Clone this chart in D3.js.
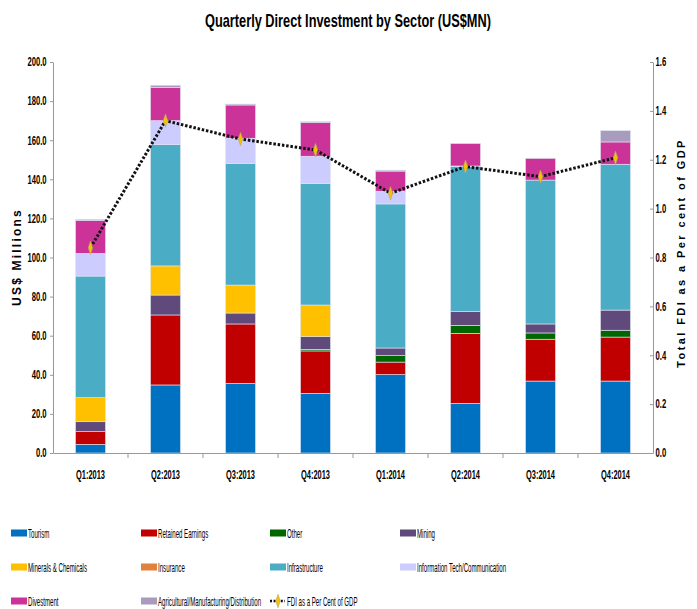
<!DOCTYPE html>
<html>
<head>
<meta charset="utf-8">
<script src="https://cdn.jsdelivr.net/npm/d3@7"></script>
<style>
  body { margin: 0; background: #fff; }
  text { fill: #000; }
</style>
</head>
<body>
<script>
  var quarters = ["Q1:2013", "Q2:2013", "Q3:2013", "Q4:2013", "Q1:2014", "Q2:2014", "Q3:2014", "Q4:2014"];
  var sectors = ["Tourism", "Retained Earnings", "Other", "Mining", "Minerals & Chemicals", "Insurance",
    "Infrastructure", "Information Tech/Communication", "Divestment", "Agricultural/Manufacturing/Distribution"];
  var colors = ["#0070C0", "#C00000", "#006600", "#604A7B", "#FFC000", "#E0823D",
    "#4BACC6", "#CCCCFF", "#CC3399", "#A99BBD"];

  var tourism = [4.4, 34.8, 35.6, 30.5, 40.1, 25.4, 36.8, 36.8];
  var retained = [6.5, 35.8, 30.4, 21.7, 6.4, 35.8, 21.4, 22.5];
  var other = [0, 0, 0, 0.8, 3.3, 4.1, 3.2, 3.5];
  var mining = [5.1, 10.2, 5.6, 6.5, 3.9, 7.2, 4.6, 10.3];
  var minerals = [12.3, 14.9, 14.3, 16.2, 0, 0, 0, 0];
  var insurance = [0, 0, 0, 0, 0, 0, 0, 0];
  var infrastructure = [62.2, 62.0, 62.1, 62.1, 73.7, 74.0, 73.6, 74.6];
  var infoTech = [11.6, 12.3, 13.0, 14.0, 6.5, 0.3, 0, 0];
  var divestment = [16.9, 16.9, 17.0, 17.2, 10.3, 11.5, 11.1, 11.4];
  var agricultural = [0.5, 1.2, 0.5, 0.5, 0.5, 0, 0, 5.8];
  var fdiPctGdp = [0.84, 1.36, 1.285, 1.24, 1.063, 1.172, 1.131, 1.208];

  var leftTicks = [0, 20, 40, 60, 80, 100, 120, 140, 160, 180, 200];
  var rightTicks = [0, 0.2, 0.4, 0.6, 0.8, 1.0, 1.2, 1.4, 1.6];

  var series = [tourism, retained, other, mining, minerals, insurance, infrastructure, infoTech, divestment, agricultural];

  var width = 697, height = 609;
  var font = "'Liberation Sans', Arial, sans-serif";
  // the source uses a condensed face, so squeeze regular text horizontally
  var tickSqueeze = "scale(0.64,1)";

  var svg = d3.select("body").append("svg")
    .attr("width", width)
    .attr("height", height);

  var plotLeft = 53, plotRight = 653, plotTop = 62, plotBottom = 453;

  var x = d3.scaleBand().domain(quarters).range([plotLeft, plotRight]).paddingInner(0.6).paddingOuter(0.3);
  var band = d3.scaleBand().domain(quarters).range([plotLeft, plotRight]);
  var y = d3.scaleLinear().domain([0, 200]).range([plotBottom, plotTop]);
  var y2 = d3.scaleLinear().domain([0, 1.6]).range([plotBottom, plotTop]);

  // stacked table
  var table = quarters.map(function(q, i) {
    var row = { q: q };
    sectors.forEach(function(s, j) { row[s] = series[j][i]; });
    return row;
  });
  var stacked = d3.stack().keys(sectors)(table);

  svg.append("g").selectAll("g")
    .data(stacked)
    .enter().append("g")
    .attr("fill", function(d, i) { return colors[i]; })
    .selectAll("rect")
    .data(function(d) { return d.filter(function(p) { return p[1] - p[0] > 0; }); })
    .enter().append("rect")
    .attr("x", function(d) { return x(d.data.q); })
    .attr("width", x.bandwidth())
    .attr("y", function(d) { return y(d[1]); })
    .attr("height", function(d) { return y(d[0]) - y(d[1]); })
    .attr("stroke", "#dfe6f2")
    .attr("stroke-width", 0.6);

  // left axis
  var gl = svg.append("g").attr("transform", "translate(" + plotLeft + ",0)")
    .call(d3.axisLeft(y).tickValues(leftTicks).tickFormat(d3.format(".1f")).tickSize(3).tickSizeOuter(0));
  gl.selectAll("text").attr("font-family", font).attr("font-size", 12).attr("font-weight", "bold")
    .attr("x", -10).attr("transform", tickSqueeze);

  // right axis
  var gr = svg.append("g").attr("transform", "translate(" + plotRight + ",0)")
    .call(d3.axisRight(y2).tickValues(rightTicks).tickFormat(d3.format(".1f")).tickSize(0).tickSizeOuter(0));
  gr.selectAll(".tick line").attr("x2", -3);
  gr.selectAll("text").attr("font-family", font).attr("font-size", 12).attr("font-weight", "bold")
    .attr("x", 4).attr("transform", tickSqueeze);

  // x axis
  var gx = svg.append("g").attr("transform", "translate(0," + plotBottom + ")")
    .call(d3.axisBottom(x).tickSize(0).tickSizeOuter(0));
  gx.selectAll("text").attr("font-family", font).attr("font-size", 12).attr("font-weight", "bold")
    .attr("y", 0).attr("dy", 26).attr("transform", "scale(0.62,1)");
  gx.selectAll(".bound").data(quarters.slice(1)).enter().append("line")
    .attr("class", "bound")
    .attr("x1", function(d) { return band(d); }).attr("x2", function(d) { return band(d); })
    .attr("y1", 0).attr("y2", 5);

  svg.selectAll(".domain, .tick line, .bound").attr("stroke", "#999");

  // line
  var line = d3.line()
    .x(function(d, i) { return x(quarters[i]) + x.bandwidth() / 2; })
    .y(function(d) { return y2(d); });

  svg.append("path")
    .datum(fdiPctGdp)
    .attr("d", line)
    .attr("fill", "none")
    .attr("stroke", "#111")
    .attr("stroke-width", 3)
    .attr("stroke-dasharray", "2.5,1.8");

  var diamond = d3.symbol().type(d3.symbolDiamond).size(30);
  svg.append("g").selectAll("path")
    .data(fdiPctGdp)
    .enter().append("path")
    .attr("d", diamond)
    .attr("transform", function(d, i) {
      return "translate(" + (x(quarters[i]) + x.bandwidth() / 2) + "," + y2(d) + ") scale(0.75,1.3)";
    })
    .attr("fill", "#F5C400")
    .attr("stroke", "#b7a36a")
    .attr("stroke-width", 0.6);

  // title
  svg.append("g").attr("transform", "translate(348,27) scale(0.71,1)")
    .append("text")
    .attr("text-anchor", "middle")
    .attr("font-family", font)
    .attr("font-size", 18)
    .attr("font-weight", "bold")
    .text("Quarterly Direct Investment by Sector (US$MN)");

  // axis titles
  svg.append("text")
    .attr("transform", "translate(21,257) rotate(-90)")
    .attr("text-anchor", "middle")
    .attr("font-family", font)
    .attr("font-size", 12)
    .attr("font-weight", "bold")
    .attr("letter-spacing", 2.2)
    .text("US$ Millions");

  svg.append("text")
    .attr("transform", "translate(685,253) rotate(-90)")
    .attr("text-anchor", "middle")
    .attr("font-family", font)
    .attr("font-size", 11)
    .attr("font-weight", "bold")
    .attr("letter-spacing", 2.4)
    .text("Total FDI as a Per cent of GDP");

  // legend
  var legendItems = sectors.map(function(s, i) { return { name: s, color: colors[i] }; });
  legendItems.push({ name: "FDI as a Per Cent of GDP", line: true });
  var colX = [11, 141, 270, 400], rowY = [533, 567, 601];

  var lg = svg.append("g").selectAll("g")
    .data(legendItems)
    .enter().append("g")
    .attr("transform", function(d, i) { return "translate(" + colX[i % 4] + "," + rowY[Math.floor(i / 4)] + ")"; });

  lg.filter(function(d) { return !d.line; }).append("rect")
    .attr("x", 0).attr("y", -3.5).attr("width", 16).attr("height", 7)
    .attr("fill", function(d) { return d.color; });

  var ll = lg.filter(function(d) { return d.line; });
  ll.append("line").attr("x1", 0).attr("x2", 15).attr("y1", 0).attr("y2", 0)
    .attr("stroke", "#111").attr("stroke-width", 2.5).attr("stroke-dasharray", "2,1.6");
  ll.append("path").attr("d", diamond)
    .attr("transform", "translate(8,0) scale(0.75,1.3)")
    .attr("fill", "#F5C400").attr("stroke", "#b7a36a").attr("stroke-width", 0.6);

  lg.append("g").attr("transform", "translate(17,4.5) scale(0.47,1)")
    .append("text")
    .attr("font-family", font)
    .attr("font-size", 13)
    .text(function(d) { return d.name; });
</script>
</body>
</html>
